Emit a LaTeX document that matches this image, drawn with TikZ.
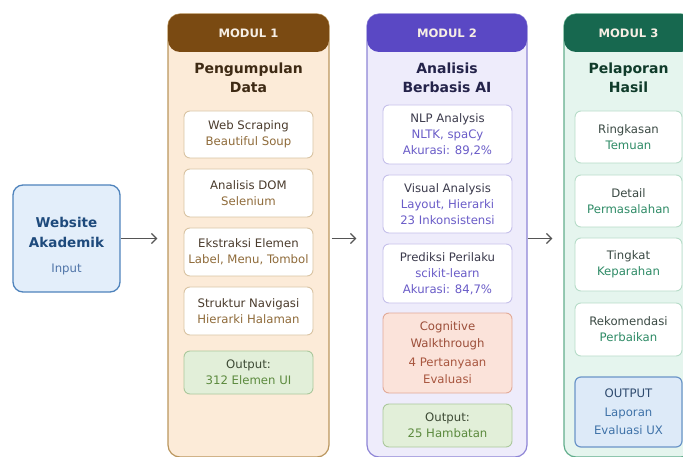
\documentclass[tikz,border=0pt]{standalone}
\usepackage{fontspec}
\setmainfont{DejaVu Sans}
\usetikzlibrary{arrows.meta}
% colours
\definecolor{webfill}{HTML}{E3EEFA}
\definecolor{webdraw}{HTML}{4F83BC}
\definecolor{webtitle}{HTML}{1E4A7C}
\definecolor{websub}{HTML}{4F74A8}
\definecolor{mAfill}{HTML}{FCEBD8}
\definecolor{mAdraw}{HTML}{BA965E}
\definecolor{mAhead}{HTML}{7A4A12}
\definecolor{mAtitle}{HTML}{3E2A14}
\definecolor{mAibox}{HTML}{D9C4A4}
\definecolor{mAone}{HTML}{4A3B2C}
\definecolor{mAtwo}{HTML}{8F6B3A}
\definecolor{mBfill}{HTML}{EEECFB}
\definecolor{mBdraw}{HTML}{8E85D6}
\definecolor{mBhead}{HTML}{5A48C4}
\definecolor{mBtitle}{HTML}{24234A}
\definecolor{mBibox}{HTML}{C6C0EA}
\definecolor{mBone}{HTML}{3B3A4C}
\definecolor{mBtwo}{HTML}{6A5CC8}
\definecolor{mCfill}{HTML}{E5F5EE}
\definecolor{mCdraw}{HTML}{62AE8C}
\definecolor{mChead}{HTML}{17684F}
\definecolor{mCtitle}{HTML}{0F3B2A}
\definecolor{mCibox}{HTML}{B7DCC9}
\definecolor{mCone}{HTML}{3B4A44}
\definecolor{mCtwo}{HTML}{2E8B66}
\definecolor{outfill}{HTML}{E2EFD9}
\definecolor{outdraw}{HTML}{ABC89C}
\definecolor{outone}{HTML}{3D4A35}
\definecolor{outtwo}{HTML}{5C8A3E}
\definecolor{cogfill}{HTML}{FBE3DA}
\definecolor{cogdraw}{HTML}{E2AA98}
\definecolor{cogone}{HTML}{9C4F3A}
\definecolor{cogtwo}{HTML}{A8563F}
\definecolor{fnfill}{HTML}{DDEAF8}
\definecolor{fndraw}{HTML}{6B95C8}
\definecolor{fnone}{HTML}{2E4A6E}
\definecolor{fntwo}{HTML}{3F72A8}
\definecolor{headtext}{HTML}{F6EEE4}
\definecolor{arrowcol}{HTML}{555555}
\tikzset{
  modbox/.style={draw, rounded corners=12pt, line width=1.2pt, inner sep=0pt},
  headbox/.style={rounded corners=12pt, inner sep=0pt, minimum height=38pt,
     text=headtext, font=\fontsize{11.6}{13}\selectfont\bfseries},
  titletext/.style={align=center, inner sep=0pt, font=\fontsize{14}{19}\selectfont\bfseries},
  ibox/.style={draw, fill=white, rounded corners=6pt, line width=0.9pt, inner sep=0pt,
     align=center, font=\fontsize{11.7}{16}\selectfont},
  arr/.style={draw=arrowcol, line width=1.3pt, -{Straight Barb[length=5pt,width=10pt,line width=1.3pt]}},
}
\begin{document}
\begin{tikzpicture}[x=1pt,y=-1pt]
\useasboundingbox (0,0) rectangle (683,457);
\clip (0,0) rectangle (683,457);

% input
\node[draw=webdraw, fill=webfill, rounded corners=10pt, line width=1.3pt,
      minimum width=107pt, minimum height=107pt, inner sep=0pt, align=center,
      font=\fontsize{13.5}{20}\selectfont\bfseries, text=webtitle] (web) at (66.5,238.5)
  {\rule{0pt}{26pt}Website\\Akademik\\[5pt]
   {\fontsize{11.7}{16}\selectfont\mdseries\textcolor{websub}{Input}}};

% module 1
\node[modbox, draw=mAdraw, fill=mAfill, minimum width=161pt, minimum height=443pt] (m1) at (248.5,235.5) {};
\node[headbox, fill=mAhead, minimum width=161pt] (h1) at (248.5,33) {MODUL 1};
\node[titletext, text=mAtitle] (t1) at (248.5,77.5) {Pengumpulan\\Data};
\node[ibox, draw=mAibox, minimum width=129pt, minimum height=47pt] (a1) at (248.5,134.5)
  {\textcolor{mAone}{Web Scraping}\\\textcolor{mAtwo}{Beautiful Soup}};
\node[ibox, draw=mAibox, minimum width=129pt, minimum height=48pt] (a2) at (248.5,193)
  {\textcolor{mAone}{Analisis DOM}\\\textcolor{mAtwo}{Selenium}};
\node[ibox, draw=mAibox, minimum width=129pt, minimum height=48pt] (a3) at (248.5,252)
  {\textcolor{mAone}{Ekstraksi Elemen}\\\textcolor{mAtwo}{Label, Menu, Tombol}};
\node[ibox, draw=mAibox, minimum width=129pt, minimum height=48pt] (a4) at (248.5,311)
  {\textcolor{mAone}{Struktur Navigasi}\\\textcolor{mAtwo}{Hierarki Halaman}};
\node[ibox, draw=outdraw, fill=outfill, minimum width=129pt, minimum height=43pt] (a5) at (248.5,372.5)
  {\textcolor{outone}{Output:}\\\textcolor{outtwo}{312 Elemen UI}};

% module 2
\node[modbox, draw=mBdraw, fill=mBfill, minimum width=160pt, minimum height=443pt] (m2) at (447,235.5) {};
\node[headbox, fill=mBhead, minimum width=160pt] (h2) at (447,33) {MODUL 2};
\node[titletext, text=mBtitle] (t2) at (447,77.5) {Analisis\\Berbasis AI};
\node[ibox, draw=mBibox, minimum width=129pt, minimum height=59pt] (b1) at (447.5,134.5)
  {\textcolor{mBone}{NLP Analysis}\\\textcolor{mBtwo}{NLTK, spaCy}\\\textcolor{mBtwo}{Akurasi: 89,2\%}};
\node[ibox, draw=mBibox, minimum width=129pt, minimum height=58pt] (b2) at (447.5,204)
  {\textcolor{mBone}{Visual Analysis}\\\textcolor{mBtwo}{Layout, Hierarki}\\\textcolor{mBtwo}{23 Inkonsistensi}};
\node[ibox, draw=mBibox, minimum width=129pt, minimum height=59pt] (b3) at (447.5,273.5)
  {\textcolor{mBone}{Prediksi Perilaku}\\\textcolor{mBtwo}{scikit-learn}\\\textcolor{mBtwo}{Akurasi: 84,7\%}};
\node[ibox, draw=cogdraw, fill=cogfill, minimum width=129pt, minimum height=80pt,
      font=\fontsize{11.7}{17}\selectfont] (b4) at (447.5,353)
  {\textcolor{cogone}{Cognitive}\\\textcolor{cogone}{Walkthrough}\\[2pt]\textcolor{cogtwo}{4 Pertanyaan}\\\textcolor{cogtwo}{Evaluasi}};
\node[ibox, draw=outdraw, fill=outfill, minimum width=129pt, minimum height=43pt] (b5) at (447.5,425.5)
  {\textcolor{outone}{Output:}\\\textcolor{outtwo}{25 Hambatan}};

% module 3
\node[modbox, draw=mCdraw, fill=mCfill, minimum width=129pt, minimum height=443pt] (m3) at (628.5,235.5) {};
\node[headbox, fill=mChead, minimum width=129pt] (h3) at (628.5,33) {MODUL 3};
\node[titletext, text=mCtitle] (t3) at (628.5,77.5) {Pelaporan\\Hasil};
\node[ibox, draw=mCibox, minimum width=107pt, minimum height=52pt] (c1) at (628.5,137)
  {\textcolor{mCone}{Ringkasan}\\\textcolor{mCtwo}{Temuan}};
\node[ibox, draw=mCibox, minimum width=107pt, minimum height=52pt] (c2) at (628.5,201)
  {\textcolor{mCone}{Detail}\\\textcolor{mCtwo}{Permasalahan}};
\node[ibox, draw=mCibox, minimum width=107pt, minimum height=53pt] (c3) at (628.5,264.5)
  {\textcolor{mCone}{Tingkat}\\\textcolor{mCtwo}{Keparahan}};
\node[ibox, draw=mCibox, minimum width=107pt, minimum height=53pt] (c4) at (628.5,329.5)
  {\textcolor{mCone}{Rekomendasi}\\\textcolor{mCtwo}{Perbaikan}};
\node[ibox, draw=fndraw, fill=fnfill, line width=1.2pt, minimum width=107pt, minimum height=70pt,
      font=\fontsize{11.7}{18.5}\selectfont] (c5) at (628.5,412)
  {\textcolor{fnone}{OUTPUT}\\\textcolor{fntwo}{Laporan}\\\textcolor{fntwo}{Evaluasi UX}};

% connectors
\draw[arr, shorten >=10pt] (web.east) -- (m1.west |- web.east);
\draw[arr, shorten <=2pt, shorten >=10pt] (m1.east |- web.east) -- (m2.west |- web.east);
\draw[arr, shorten >=11pt] (m2.east |- web.east) -- (m3.west |- web.east);
\end{tikzpicture}
\end{document}
